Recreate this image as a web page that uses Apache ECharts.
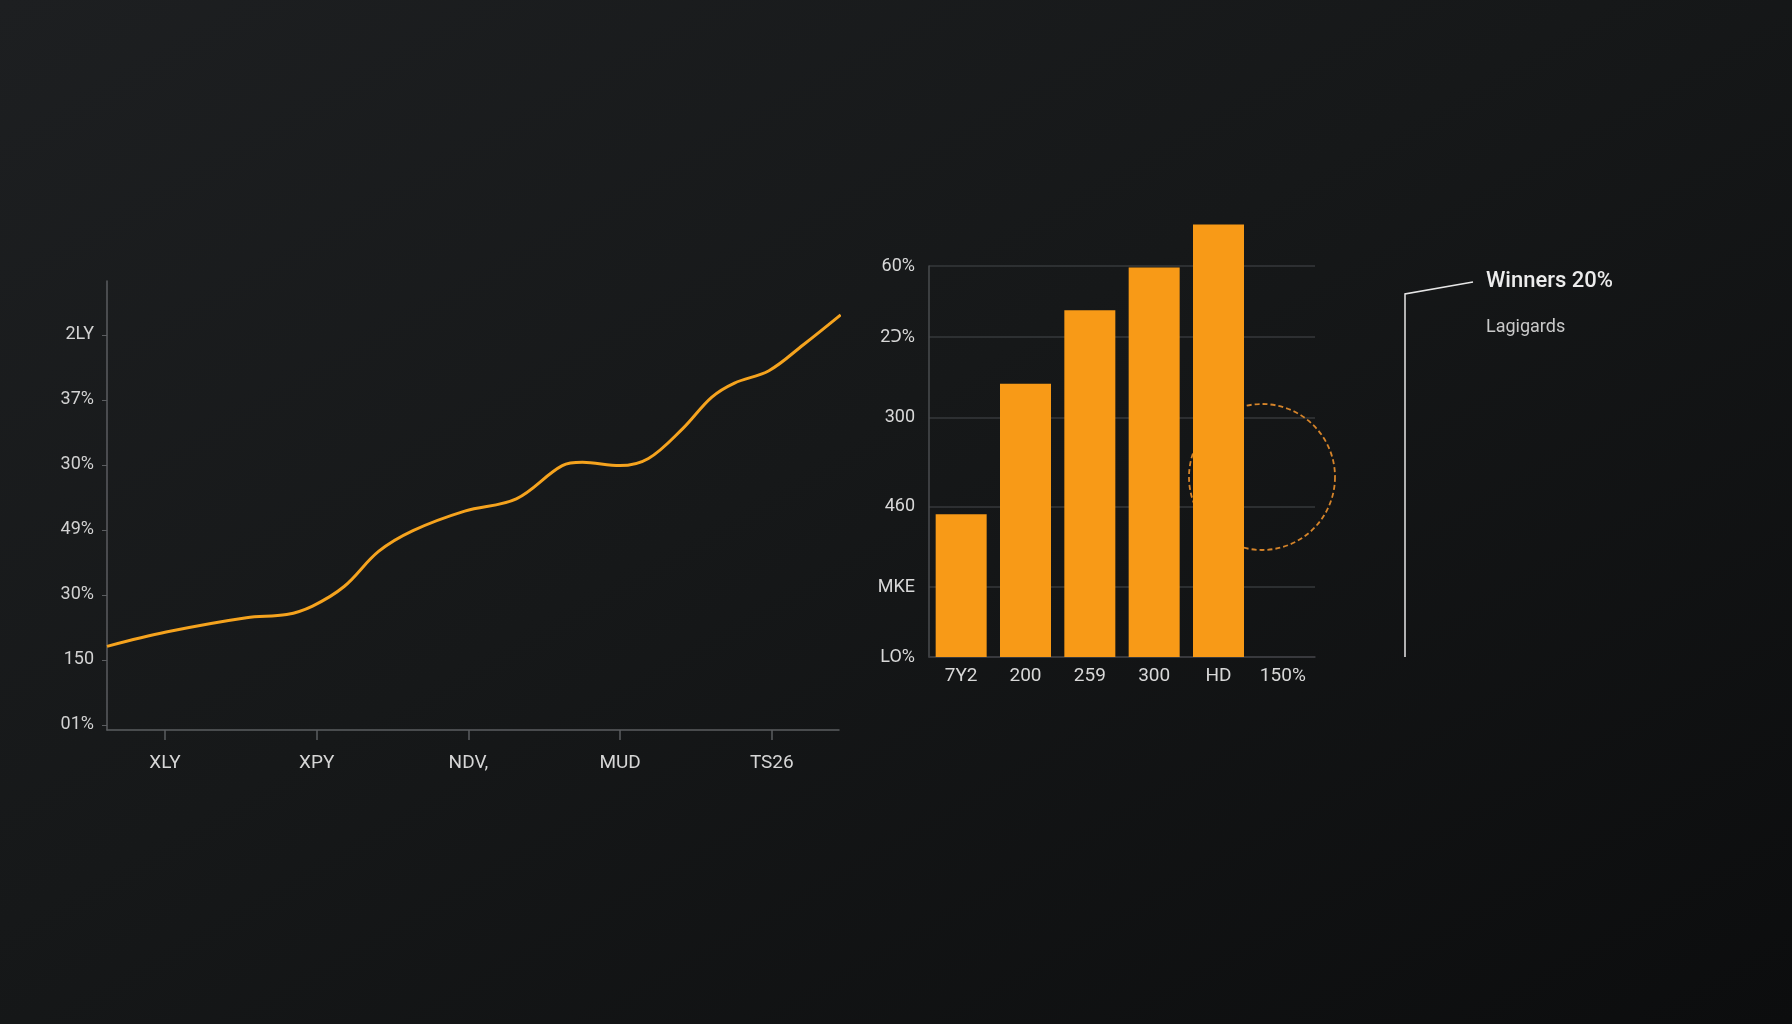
<!DOCTYPE html>
<html>
<head>
<meta charset="utf-8">
<script src="https://cdn.jsdelivr.net/npm/echarts@6/dist/echarts.min.js"></script>
<style>
  html, body { margin: 0; padding: 0; width: 1792px; height: 1024px; overflow: hidden;
    background: linear-gradient(150deg, #1d1f21 0%, #161819 45%, #0c0d0e 100%); }
  #chart { width: 1792px; height: 1024px; }
</style>
</head>
<body>
<div id="chart"></div>
<script>
// ---- data ----
const lineXLabels = ['XLY', 'XPY', 'NDV,', 'MUD', 'TS26'];
const lineXTicks = [1, 2, 3, 4, 5];
const lineYLabels = ['01%', '150', '30%', '49%', '30%', '37%', '2LY']; // bottom to top
const lineYTicks = [0, 1, 2, 3, 4, 5, 6];
const linePoints = [
  [0.618, 1.21], [1.008, 1.43], [1.537, 1.65], [1.802, 1.70], [1.973, 1.83],
  [2.181, 2.13], [2.408, 2.67], [2.635, 2.99], [2.976, 3.29], [3.316, 3.48],
  [3.619, 3.99], [3.752, 4.04], [3.998, 3.99], [4.187, 4.10], [4.413, 4.56],
  [4.603, 5.04], [4.754, 5.26], [4.981, 5.45], [5.208, 5.85], [5.454, 6.31]
];
const barCategories = ['7Y2', '200', '259', '300', 'HD', '150%'];
const barValues = [36.5, 69.9, 88.7, 99.6, 110.6, null];
const barTickValues = [0, 17.9, 38.5, 61.2, 81.8, 100];
const barTickLabels = ['LO%', 'MKE', '460', '300', '2Ↄ%', '60%'];
const legendTexts = ['Winners 20%', 'Lagigards'];

const FONT = 'Roboto, "Noto Sans", "DejaVu Sans", sans-serif';
const chart = echarts.init(document.getElementById('chart'), null, { renderer: 'canvas' });

const option = {
  backgroundColor: 'transparent',
  animation: false,
  grid: [
    { left: 107, top: 281, width: 732, height: 449 },
    { left: 929, top: 266, width: 386, height: 391 }
  ],
  xAxis: [
    {
      type: 'value', gridIndex: 0, min: 0.618, max: 5.443,
      axisLine: { show: true, onZero: false, lineStyle: { color: '#5b5d60', width: 1.5 } },
      axisTick: { show: true, length: 10, customValues: lineXTicks, lineStyle: { color: '#5b5d60', width: 1.5 } },
      axisLabel: {
        customValues: lineXTicks, margin: 24, color: '#d6d6d6', fontSize: 19, fontFamily: FONT,
        formatter: v => lineXLabels[Math.round(v) - 1] || ''
      },
      splitLine: { show: false }
    },
    {
      type: 'category', gridIndex: 1, data: barCategories,
      axisLine: { show: true, lineStyle: { color: '#3c3e41', width: 1.5 } },
      axisTick: { show: false },
      axisLabel: { margin: 10, color: '#d8d8d8', fontSize: 19, fontFamily: FONT },
      splitLine: { show: false }
    }
  ],
  yAxis: [
    {
      type: 'value', gridIndex: 0, min: -0.077, max: 6.83,
      axisLine: { show: true, lineStyle: { color: '#5b5d60', width: 1.5 } },
      axisTick: { show: true, length: 5, customValues: lineYTicks, lineStyle: { color: '#5b5d60' } },
      axisLabel: {
        customValues: lineYTicks, margin: 13, color: '#d2d2d2', fontSize: 18, fontFamily: FONT,
        formatter: v => lineYLabels[Math.round(v)] || ''
      },
      splitLine: { show: false }
    },
    {
      type: 'value', gridIndex: 1, min: 0, max: 100,
      axisLine: { show: true, lineStyle: { color: '#4a4c4f', width: 1.5 } },
      axisTick: { show: false, customValues: barTickValues },
      axisLabel: {
        customValues: barTickValues, margin: 14, color: '#d8d8d8', fontSize: 18, fontFamily: FONT,
        formatter: v => {
          const i = barTickValues.indexOf(v);
          return i >= 0 ? barTickLabels[i] : '';
        }
      },
      splitLine: { show: true, lineStyle: { color: '#36383b', width: 1.5 } }
    }
  ],
  series: [
    {
      type: 'line', xAxisIndex: 0, yAxisIndex: 0, data: linePoints,
      smooth: 0.35, showSymbol: false, symbol: 'none',
      lineStyle: { color: '#f5a31e', width: 3 }, z: 3
    },
    {
      type: 'bar', xAxisIndex: 1, yAxisIndex: 1, data: barValues,
      barWidth: 51, clip: false,
      itemStyle: { color: '#f89a17' }, z: 3
    }
  ],
  graphic: [
    {
      type: 'circle', z: 1, silent: true,
      shape: { cx: 1262, cy: 477, r: 73 },
      style: { fill: 'none', stroke: '#d5842a', lineWidth: 1.8, lineDash: [5, 3] }
    },
    {
      type: 'polyline', z: 5, silent: true,
      shape: { points: [[1405, 657], [1405, 294], [1473, 282]] },
      style: { fill: 'none', stroke: '#e6e6e6', lineWidth: 1.5 }
    },
    {
      type: 'text', z: 5, silent: true, left: 1486, top: 270,
      style: { text: legendTexts[0], fill: '#ececec', font: '500 22px ' + FONT }
    },
    {
      type: 'text', z: 5, silent: true, left: 1486, top: 318,
      style: { text: legendTexts[1], fill: '#c9c9c9', font: '400 18px ' + FONT }
    }
  ]
};
chart.setOption(option);
</script>
</body>
</html>
